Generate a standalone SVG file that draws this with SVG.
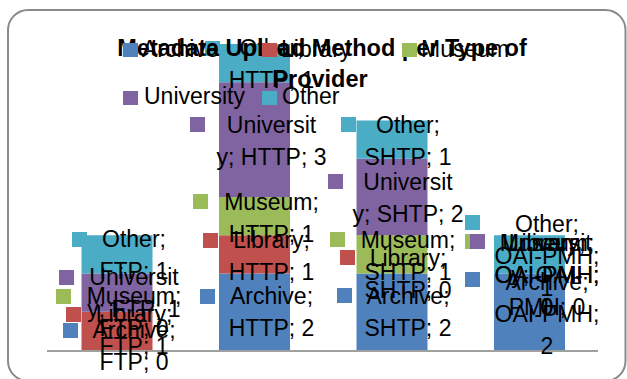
<svg xmlns="http://www.w3.org/2000/svg" width="627" height="379" viewBox="0 0 627 379">
<style>
.t{font-family:"Liberation Sans",Arial,sans-serif;font-size:23px;fill:#000}
.lb{text-anchor:middle}
.ttl{font-family:"Liberation Sans",Arial,sans-serif;font-size:23.5px;font-weight:bold;fill:#000;text-anchor:middle}
.ar{fill:#4F81BD}.li{fill:#C0504D}.mu{fill:#9BBB59}.un{fill:#8064A2}.ot{fill:#4BACC6}
</style>
<rect x="8" y="10" width="617.5" height="371" rx="20" fill="#fff" stroke="#8a8a8a" stroke-width="2"/>
<g id="bars">
<g id="bar-ftp">
<rect class="li" x="81.5" y="311.75" width="71" height="38.25"/>
<rect class="un" x="81.5" y="273.5" width="71" height="38.25"/>
<rect class="ot" x="81.5" y="235.25" width="71" height="38.25"/>
</g>
<g id="bar-http">
<rect class="ar" x="219" y="273.5" width="71" height="76.5"/>
<rect class="li" x="219" y="235.25" width="71" height="38.25"/>
<rect class="mu" x="219" y="197" width="71" height="38.25"/>
<rect class="un" x="219" y="82.25" width="71" height="114.75"/>
<rect class="ot" x="219" y="44" width="71" height="38.25"/>
</g>
<g id="bar-shtp">
<rect class="ar" x="356.5" y="273.5" width="71" height="76.5"/>
<rect class="mu" x="356.5" y="235.25" width="71" height="38.25"/>
<rect class="un" x="356.5" y="158.75" width="71" height="76.5"/>
<rect class="ot" x="356.5" y="120.5" width="71" height="38.25"/>
</g>
<g id="bar-oai">
<rect class="ar" x="494" y="273.5" width="71" height="76.5"/>
<rect class="ot" x="494" y="235.25" width="71" height="38.25"/>
</g>
</g>
<line id="axis" x1="47" y1="351" x2="598" y2="351" stroke="#a0a0a0" stroke-width="2"/>
<g id="labels-ftp">
<rect class="ar" x="63" y="323" width="15" height="15"/>
<text class="t lb" x="134" y="338">Archive;</text><text class="t lb" x="134" y="370">FTP; 0</text>
<rect class="li" x="66" y="307" width="15" height="15"/>
<text class="t lb" x="134" y="322">Library;</text><text class="t lb" x="134" y="354">FTP; 1</text>
<rect class="mu" x="56" y="289" width="15" height="15"/>
<text class="t lb" x="134" y="304">Museum;</text><text class="t lb" x="134" y="336">FTP; 0</text>
<rect class="un" x="59" y="270" width="15" height="15"/>
<text class="t lb" x="134" y="285">Universit</text><text class="t lb" x="134" y="317">y; FTP; 1</text>
<rect class="ot" x="72" y="232" width="15" height="15"/>
<text class="t lb" x="134" y="247">Other;</text><text class="t lb" x="134" y="279">FTP; 1</text>
</g>
<g id="labels-http">
<rect class="ar" x="200" y="289" width="15" height="15"/>
<text class="t lb" x="271.5" y="304">Archive;</text><text class="t lb" x="271.5" y="336">HTTP; 2</text>
<rect class="li" x="203" y="233" width="15" height="15"/>
<text class="t lb" x="271.5" y="248">Library;</text><text class="t lb" x="271.5" y="280">HTTP; 1</text>
<rect class="mu" x="193" y="194" width="15" height="15"/>
<text class="t lb" x="271.5" y="210">Museum;</text><text class="t lb" x="271.5" y="242">HTTP; 1</text>
<rect class="un" x="190" y="117" width="15" height="15"/>
<text class="t lb" x="271.5" y="133">Universit</text><text class="t lb" x="271.5" y="165">y; HTTP; 3</text>
<rect class="ot" x="205" y="41" width="15" height="15"/>
<text class="t lb" x="271.5" y="56">Other;</text><text class="t lb" x="271.5" y="88">HTTP; 1</text>
</g>
<g id="labels-shtp">
<rect class="ar" x="337" y="288" width="15" height="15"/>
<text class="t lb" x="408" y="304">Archive;</text><text class="t lb" x="408" y="336">SHTP; 2</text>
<rect class="li" x="340" y="250" width="15" height="15"/>
<text class="t lb" x="408" y="266">Library;</text><text class="t lb" x="408" y="298">SHTP; 0</text>
<rect class="mu" x="330" y="232" width="15" height="15"/>
<text class="t lb" x="408" y="248">Museum;</text><text class="t lb" x="408" y="280">SHTP; 1</text>
<rect class="un" x="328" y="174" width="15" height="15"/>
<text class="t lb" x="408" y="190">Universit</text><text class="t lb" x="408" y="222">y; SHTP; 2</text>
<rect class="ot" x="341" y="117" width="15" height="15"/>
<text class="t lb" x="408" y="133">Other;</text><text class="t lb" x="408" y="165">SHTP; 1</text>
</g>
<g id="labels-oai">
<rect class="ar" x="465" y="272" width="15" height="15"/>
<text class="t lb" x="547" y="290">Archive;</text><text class="t lb" x="547" y="322">OAI-PMH;</text><text class="t lb" x="547" y="354">2</text>
<rect class="li" x="465" y="234" width="15" height="15"/>
<text class="t lb" x="547" y="251">Library;</text><text class="t lb" x="547" y="283">OAI-PMH;</text><text class="t lb" x="547" y="315">0</text>
<rect class="mu" x="465" y="234" width="15" height="15"/>
<text class="t lb" x="547" y="251">Museum;</text><text class="t lb" x="547" y="283">OAI-PMH;</text><text class="t lb" x="547" y="315">0</text>
<rect class="un" x="470" y="234" width="15" height="15"/>
<text class="t lb" x="547" y="251">Universit</text><text class="t lb" x="547" y="283">y; OAI-</text><text class="t lb" x="547" y="315">PMH; 0</text>
<rect class="ot" x="465" y="215" width="15" height="15"/>
<text class="t lb" x="547" y="232">Other;</text><text class="t lb" x="547" y="264">OAI-PMH;</text><text class="t lb" x="547" y="296">1</text>
</g>
<g id="title">
<text class="ttl" x="322" y="56">Metadata Upload Method per Type of</text>
<text class="ttl" x="320" y="87">Provider</text>
</g>
<g id="legend">
<rect class="ar" x="123" y="43" width="15" height="14"/><text class="t" x="142" y="57">Archive</text>
<rect class="li" x="262" y="43" width="15" height="14"/><text class="t" x="281" y="57">Library</text>
<rect class="mu" x="402" y="43" width="15" height="14"/><text class="t" x="421" y="57">Museum</text>
<rect class="un" x="123" y="91" width="15" height="14"/><text class="t" x="144" y="104">University</text>
<rect class="ot" x="262" y="91" width="15" height="14"/><text class="t" x="282" y="104">Other</text>
</g>
</svg>
